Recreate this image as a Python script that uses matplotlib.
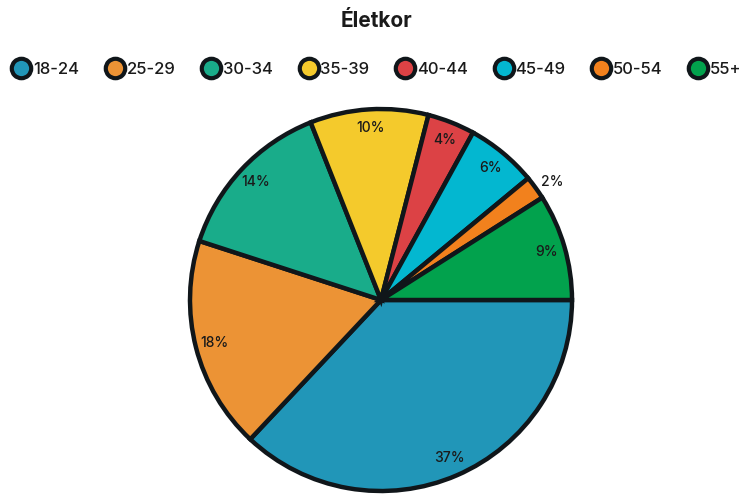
import matplotlib.pyplot as plt
from matplotlib.lines import Line2D

plt.rcParams['font.family'] = ['Inter', 'DejaVu Sans']

labels = ['18-24', '25-29', '30-34', '35-39', '40-44', '45-49', '50-54', '55+']
values = [37, 18, 14, 10, 4, 6, 2, 9]
colors = ['#2196b8', '#ec9335', '#19ac8a', '#f4ca2c', '#dc4245', '#03b7d0', '#f2811d', '#02a24d']
edge = '#10161a'

fig = plt.figure(figsize=(7.53, 4.96), dpi=100)
ax = fig.add_axes([142.25 / 753, -42.75 / 496, 477.5 / 753, 477.5 / 496])

wedges, texts, autotexts = ax.pie(
    values, colors=colors, startangle=0, counterclock=False,
    autopct='%d%%', pctdistance=0.9,
    wedgeprops=dict(edgecolor=edge, linewidth=3.2, joinstyle='miter'),
    textprops=dict(fontsize=10, color='#1a1a1a', fontweight='medium'))
ax.set_xlim(-1.25, 1.25)
ax.set_ylim(-1.25, 1.25)

# small slice label sits outside
autotexts[6].set_position((0.895, 0.62))

fig.text(0.5, 1 - 21 / 496, 'Életkor', ha='center', va='center',
         fontsize=15, fontweight='bold', color='#1a1a1a')

handles = [Line2D([], [], marker='o', linestyle='', markersize=14,
                  markerfacecolor=c, markeredgecolor=edge, markeredgewidth=3)
           for c in colors]
fig.legend(handles, labels, loc='center', bbox_to_anchor=(0.5, 1 - 69 / 496),
           ncol=8, frameon=False, handletextpad=0.1,
           prop=dict(size=12, weight='medium'),
           columnspacing=1.55, handlelength=1.2, labelcolor='#1a1a1a')

fig.savefig('out.png', dpi=100)
